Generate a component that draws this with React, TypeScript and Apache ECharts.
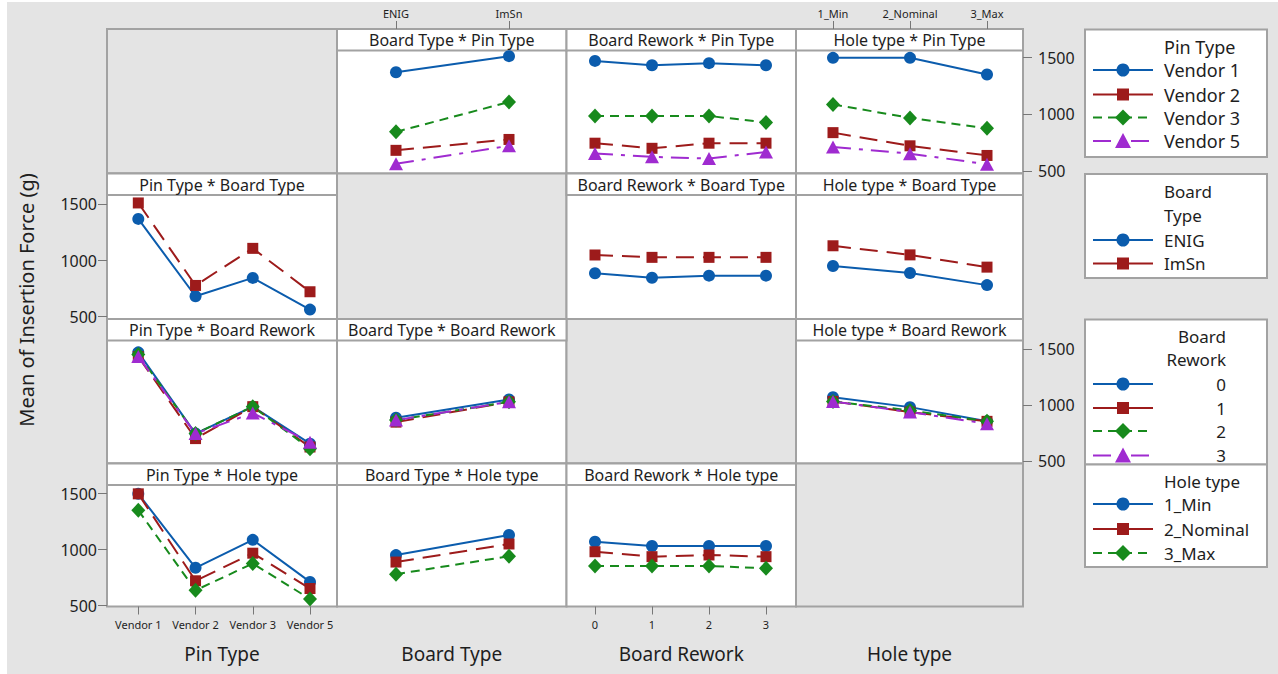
import React, { useEffect, useRef } from "react";
import * as echarts from "echarts";

// ---------- data ----------
const factorNames = ["Pin Type", "Board Type", "Board Rework", "Hole type"];
const pinLevels = ["Vendor 1", "Vendor 2", "Vendor 3", "Vendor 5"];
const boardLevels = ["ENIG", "ImSn"];
const reworkLevels = ["0", "1", "2", "3"];
const holeLevels = ["1_Min", "2_Nominal", "3_Max"];
const yTicks = [500, 1000, 1500];
const yAxisTitle = "Mean of Insertion Force (g)";

// mean insertion force, [level of first factor][level of second factor]
const pinByBoard = [
  [1370, 1512],
  [682, 778],
  [845, 1108],
  [563, 722],
];
const pinByRework = [
  [1470, 1432, 1450, 1432],
  [745, 700, 745, 745],
  [985, 985, 985, 928],
  [655, 625, 610, 668],
];
const pinByHole = [
  [1497, 1497, 1350],
  [838, 722, 637],
  [1087, 968, 876],
  [712, 653, 560],
];
const boardByRework = [
  [886, 847, 865, 865],
  [1049, 1028, 1028, 1028],
];
const boardByHole = [
  [951, 889, 781],
  [1131, 1050, 941],
];
const reworkByHole = [
  [1070, 981, 854],
  [1032, 937, 854],
  [1032, 952, 854],
  [1032, 937, 833],
];

// ---------- layout / style ----------
const FONT = '"Noto Sans", sans-serif';
const TEXT = "#1e1e1e";
const BG = "#e4e4e4";
const FRAME = "#a2a2a2";
const COLX = [107, 337, 566.5, 796, 1023];
const ROWY = [29, 173.5, 319, 463.5, 606.5];
const STRIP = 21.5;
const CAT_FIRST = [138.3, 396, 595, 833];
const CAT_LAST = [310, 509, 766, 987];
const Y_TOP = [57.5, 204.3, 349, 493.5];
const Y_BOT = [171, 316.7, 461, 605.7];
const COLORS = ["#0b5cad", "#9d1b1b", "#178a1c", "#9f2bd0"];
const SYMBOLS = ["circle", "rect", "diamond", "triangle"];
const SYMSIZE: any[] = [12, 11, [14, 15], [14, 13]];
const DASH: any[] = ["solid", [18, 9], [9, 6], [18, 8, 4, 8]];

const levels = [pinLevels, boardLevels, reworkLevels, holeLevels];
const tables: Record<string, number[][]> = {
  "0-1": pinByBoard,
  "0-2": pinByRework,
  "0-3": pinByHole,
  "1-2": boardByRework,
  "1-3": boardByHole,
  "2-3": reworkByHole,
};

function means(r: number, c: number): number[][] {
  if (r < c) return tables[`${r}-${c}`];
  const t = tables[`${c}-${r}`];
  return levels[r].map((_, g) => levels[c].map((__, x) => t[x][g]));
}

function txt(
  text: string,
  x: number,
  y: number,
  size: number,
  align = "center",
  extra: any = {}
) {
  return {
    type: "text",
    x,
    y,
    z: 6,
    silent: true,
    ...extra,
    style: {
      text,
      fill: TEXT,
      font: `${size}px ${FONT}`,
      align,
      verticalAlign: "middle",
      textAlign: align,
      textVerticalAlign: "middle",
    },
  };
}

function marker(g: number, cx: number, cy: number) {
  const style = { fill: COLORS[g] };
  if (g === 0) return { type: "circle", z: 5, shape: { cx, cy, r: 6.5 }, style };
  if (g === 1)
    return { type: "rect", z: 5, shape: { x: cx - 6, y: cy - 6, width: 12, height: 12 }, style };
  if (g === 2)
    return {
      type: "polygon",
      z: 5,
      shape: { points: [[cx, cy - 8], [cx + 8, cy], [cx, cy + 8], [cx - 8, cy]] },
      style,
    };
  return {
    type: "polygon",
    z: 5,
    shape: { points: [[cx, cy - 8], [cx + 8, cy + 7], [cx - 8, cy + 7]] },
    style,
  };
}

function buildOption() {
  const grid: any[] = [];
  const xAxis: any[] = [];
  const yAxis: any[] = [];
  const series: any[] = [];
  const graphic: any[] = [];

  graphic.push({
    type: "rect",
    z: 0,
    silent: true,
    shape: { x: 7, y: 2, width: 1278, height: 680 },
    style: { fill: BG },
  });

  let idx = 0;
  for (let r = 0; r < 4; r++) {
    for (let c = 0; c < 4; c++) {
      const cx = COLX[c];
      const cy = ROWY[r];
      const cw = COLX[c + 1] - COLX[c];
      const ch = ROWY[r + 1] - ROWY[r];
      if (r === c) {
        graphic.push({
          type: "rect",
          z: 1,
          silent: true,
          shape: { x: cx, y: cy, width: cw, height: ch },
          style: { fill: BG, stroke: FRAME, lineWidth: 2 },
        });
        continue;
      }
      graphic.push({
        type: "rect",
        z: 1,
        silent: true,
        shape: { x: cx, y: cy, width: cw, height: ch },
        style: { fill: "#ffffff", stroke: FRAME, lineWidth: 2 },
      });
      graphic.push({
        type: "rect",
        z: 2,
        silent: true,
        shape: { x: cx, y: cy, width: cw, height: STRIP },
        style: { fill: "#ffffff", stroke: FRAME, lineWidth: 2 },
      });
      graphic.push(
        txt(`${factorNames[c]} * ${factorNames[r]}`, cx + cw / 2, cy + STRIP / 2 + 0.5, 16)
      );

      grid.push({
        left: CAT_FIRST[c],
        top: Y_TOP[r],
        width: CAT_LAST[c] - CAT_FIRST[c],
        height: Y_BOT[r] - Y_TOP[r],
      });
      const showTopX = r === 0 && (c === 1 || c === 3);
      const showBotX = r === 3 && (c === 0 || c === 2);
      xAxis.push({
        gridIndex: idx,
        type: "category",
        data: levels[c],
        boundaryGap: false,
        show: showTopX || showBotX,
        position: r === 0 ? "top" : "bottom",
        offset: r === 0 ? Y_TOP[0] - ROWY[0] : ROWY[4] - Y_BOT[3],
        z: 5,
        axisLine: { show: false },
        axisTick: { show: true, length: 8, interval: 0, lineStyle: { color: "#777", width: 1 } },
        axisLabel: {
          interval: 0,
          fontSize: 11,
          color: TEXT,
          fontFamily: FONT,
          margin: r === 0 ? 10 : 12,
        },
        splitLine: { show: false },
      });
      const showY = (c === 0 && (r === 1 || r === 3)) || (c === 3 && (r === 0 || r === 2));
      yAxis.push({
        gridIndex: idx,
        type: "value",
        min: yTicks[0],
        max: yTicks[yTicks.length - 1],
        interval: yTicks[1] - yTicks[0],
        show: showY,
        position: c === 3 ? "right" : "left",
        offset: c === 3 ? COLX[4] - CAT_LAST[3] : CAT_FIRST[0] - COLX[0],
        z: 5,
        axisLine: { show: false },
        axisTick: { show: true, length: 9, lineStyle: { color: "#777", width: 1 } },
        axisLabel: {
          fontSize: 16,
          color: TEXT,
          fontFamily: FONT,
          margin: c === 3 ? 15 : 10,
          formatter: (v: number) => String(v),
        },
        splitLine: { show: false },
      });
      const m = means(r, c);
      m.forEach((vals, g) => {
        series.push({
          type: "line",
          xAxisIndex: idx,
          yAxisIndex: idx,
          data: vals,
          symbol: SYMBOLS[g],
          symbolSize: SYMSIZE[g],
          showSymbol: true,
          clip: false,
          silent: true,
          z: 10,
          lineStyle: { color: COLORS[g], width: 2, type: DASH[g] },
          itemStyle: { color: COLORS[g] },
        });
      });
      idx++;
    }
  }

  // axis titles
  graphic.push(txt(yAxisTitle, 26, 300, 20, "center", { rotation: Math.PI / 2 }));
  for (let c = 0; c < 4; c++) {
    graphic.push(txt(factorNames[c], (COLX[c] + COLX[c + 1]) / 2, 654, 19));
  }

  // legends
  const LX = 1085;
  const LW = 182;
  const legendBox = (y: number, h: number) =>
    graphic.push({
      type: "rect",
      z: 3,
      silent: true,
      shape: { x: LX, y, width: LW, height: h },
      style: { fill: "#ffffff", stroke: FRAME, lineWidth: 2 },
    });
  const legendItem = (g: number, y: number, label: string, size: number, right = false) => {
    graphic.push({
      type: "line",
      z: 4,
      silent: true,
      shape: { x1: 1093, y1: y, x2: 1153, y2: y },
      style: { stroke: COLORS[g], lineWidth: 2, lineDash: g === 0 || g === 1 ? null : DASH[g] },
    });
    graphic.push(marker(g, 1123, y));
    graphic.push(txt(label, right ? 1226 : 1164, y, size, right ? "right" : "left"));
  };

  // Pin Type
  legendBox(29.5, 127.5);
  graphic.push(txt(factorNames[0], 1164, 46.5, 18, "left"));
  const pinY = [70, 94.5, 117.5, 141];
  pinLevels.forEach((l, g) => legendItem(g, pinY[g], l, 18));

  // Board Type
  legendBox(174, 104);
  graphic.push(txt("Board", 1164, 191.5, 17, "left"));
  graphic.push(txt("Type", 1164, 215, 17, "left"));
  const boardY = [240, 263.5];
  boardLevels.forEach((l, g) => legendItem(g, boardY[g], l, 17));

  // Board Rework
  legendBox(319.5, 145);
  graphic.push(txt("Board", 1226, 336, 17, "right"));
  graphic.push(txt("Rework", 1226, 359.5, 17, "right"));
  const reworkY = [384, 408, 431, 455.5];
  reworkLevels.forEach((l, g) => legendItem(g, reworkY[g], l, 17, true));

  // Hole type
  legendBox(464.5, 102.5);
  graphic.push(txt(factorNames[3], 1164, 481, 17, "left"));
  const holeY = [504, 529, 553];
  holeLevels.forEach((l, g) => legendItem(g, holeY[g], l, 17));

  return {
    animation: false,
    backgroundColor: "#ffffff",
    grid,
    xAxis,
    yAxis,
    series,
    graphic: { elements: graphic },
  };
}

export default function App() {
  const ref = useRef<HTMLDivElement>(null);
  useEffect(() => {
    if (!ref.current) return;
    const chart = echarts.init(ref.current, null, { renderer: "svg" });
    chart.setOption(buildOption() as any);
    return () => chart.dispose();
  }, []);
  return (
    <div
      ref={ref}
      style={{ position: "fixed", left: 0, top: 0, width: 1278, height: 674 }}
    />
  );
}
